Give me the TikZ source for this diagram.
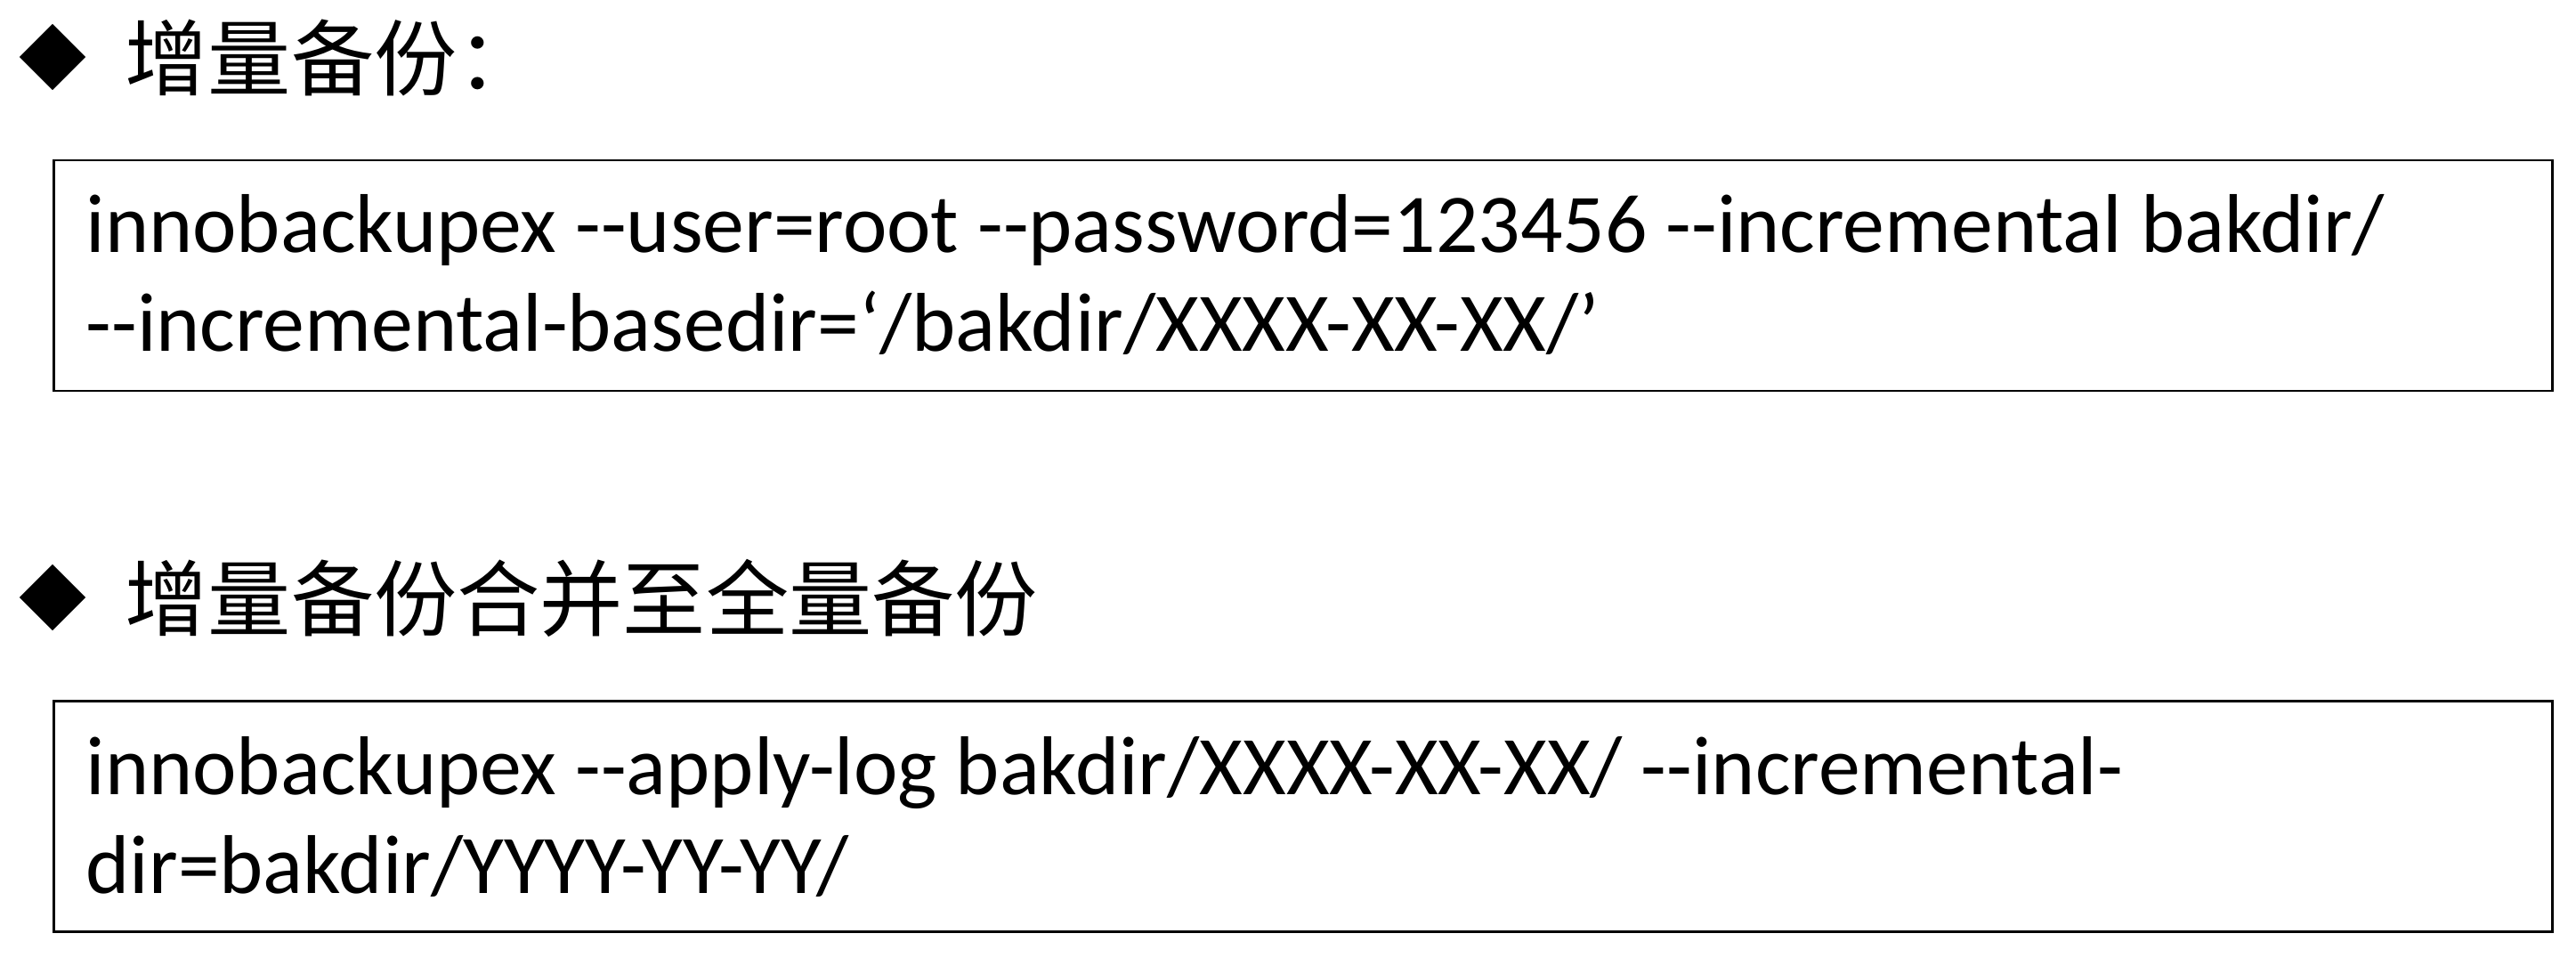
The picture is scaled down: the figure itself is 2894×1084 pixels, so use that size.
\documentclass[tikz,border=0pt]{standalone}
\usepackage{fontspec}
\newfontfamily\cmdfont{Carlito}
\newfontfamily\cjk{Noto Sans CJK SC}
\usetikzlibrary{shapes.geometric}

\begin{document}
\begin{tikzpicture}[x=0.01cm, y=-0.01cm,
	bullet/.style={diamond, fill=black, inner sep=0pt, minimum width=0.75cm, minimum height=0.75cm},
	heading/.style={anchor=base west, inner sep=0pt, font=\cjk\fontsize{26.5pt}{31.8pt}\selectfont},
	cmdbox/.style={draw, line width=0.8pt, minimum width=28.06cm, minimum height=2.59cm},
	cmdline/.style={anchor=base west, inner sep=0pt, font=\cmdfont\fontsize{26.65pt}{32pt}\selectfont}]
	\useasboundingbox (0,0) rectangle (2894,1084);

	\node[bullet] (bullet1) at (59,64) {};
	\node[heading] (title1) at (140,100) {增量备份：};
	\node[cmdbox] (box1) at (1464,309.5) {};
	\node[cmdline] (cmd1) at (96,283) {innobackupex --user=root --password=123456 --incremental bakdir/};
	\node[cmdline] (cmd2) at (96,394) {--incremental-basedir=‘/bakdir/XXXX-XX-XX/’};

	\node[bullet] (bullet2) at (59,671) {};
	\node[heading] (title2) at (140,707) {增量备份合并至全量备份};
	\node[cmdbox] (box2) at (1464,917) {};
	\node[cmdline] (cmd3) at (96,892) {innobackupex --apply-log bakdir/XXXX-XX-XX/ --incremental-};
	\node[cmdline] (cmd4) at (96,1003) {dir=bakdir/YYYY-YY-YY/};
\end{tikzpicture}
\end{document}
